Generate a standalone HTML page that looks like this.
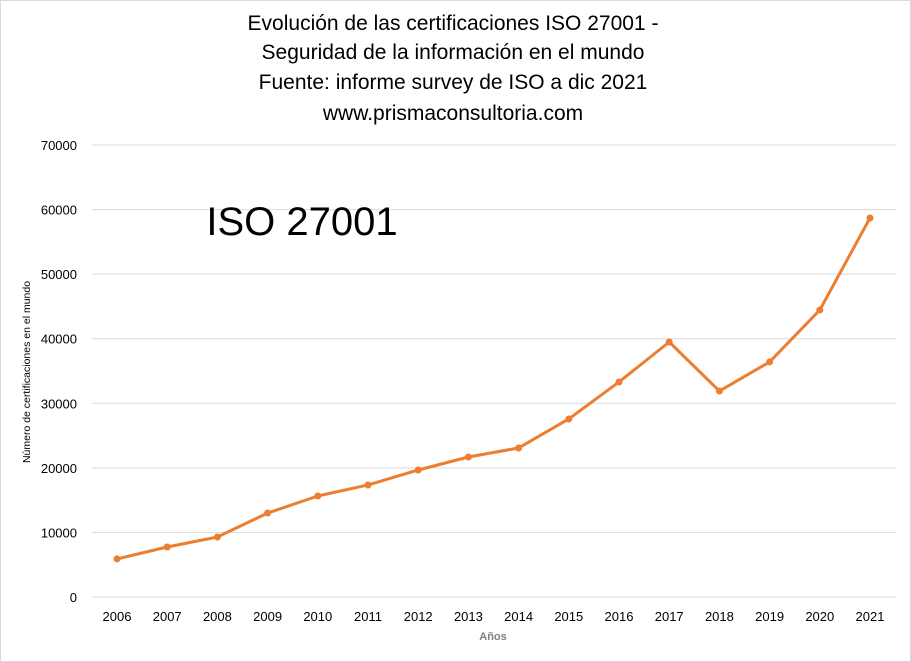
<!DOCTYPE html>
<html><head><meta charset="utf-8"><style>
body{margin:0;background:#fff}
svg{display:block;font-family:"Liberation Sans",sans-serif}
</style></head><body>
<svg id="chart" width="911" height="662">
<rect x="0.5" y="0.5" width="910" height="661" fill="#fff" stroke="#d9d9d9"/>
<g font-size="21" text-anchor="middle" fill="#000">
<text x="453" y="30">Evolución de las certificaciones ISO 27001 -</text>
<text x="453" y="59">Seguridad de la información en el mundo</text>
<text x="453" y="89">Fuente: informe survey de ISO  a dic 2021</text>
<text x="453" y="120">www.prismaconsultoria.com</text>
</g>
<g id="grid"></g>
<text x="302" y="235" font-size="40" text-anchor="middle">ISO 27001</text>
<g id="yticks"></g>
<g id="xticks"></g>
<text x="0" y="0" transform="translate(30,372) rotate(-90)" font-size="10.5" text-anchor="middle">Número de certificaciones en el mundo</text>
<text x="493" y="640" font-size="11" font-weight="bold" fill="#7f7f7f" text-anchor="middle">Años</text>
<g id="series"></g>
</svg>
<script>
const categories=["2006","2007","2008","2009","2010","2011","2012","2013","2014","2015","2016","2017","2018","2019","2020","2021"];
const values=[5900,7740,9290,13000,15640,17350,19670,21680,23080,27570,33300,39490,31900,36400,44450,58700];
const yTicks=[0,10000,20000,30000,40000,50000,60000,70000];
const NS="http://www.w3.org/2000/svg";
const x0=117,x1=870,yBase=597,yTop=145,yMax=70000;
function xs(i){return x0+(x1-x0)*i/(categories.length-1);}
function ys(v){return yBase-(yBase-yTop)*v/yMax;}
function mk(t,a,p){const e=document.createElementNS(NS,t);for(const k in a)e.setAttribute(k,a[k]);p.appendChild(e);return e;}
const grid=document.getElementById('grid'),yt=document.getElementById('yticks'),xt=document.getElementById('xticks'),ser=document.getElementById('series');
yTicks.forEach(v=>{
 const l=mk('line',{x1:92,x2:896,y1:ys(v),y2:ys(v),stroke:'#d9d9d9','stroke-width':1},grid);
 
 
 const t=mk('text',{x:77,y:ys(v)+5,'font-size':13,'text-anchor':'end'},yt);
 t.textContent=v;
 
 
});
categories.forEach((c,i)=>{
 const t=mk('text',{x:xs(i),y:621,'font-size':13,'text-anchor':'middle'},xt);
 t.textContent=c;
 
 
});
const pl=mk('polyline',{points:values.map((v,i)=>xs(i)+','+ys(v)).join(' '),fill:'none',stroke:'#ed7d31','stroke-width':3,'stroke-linejoin':'round'},ser);


values.forEach((v,i)=>{
 const c=mk('circle',{cx:xs(i),cy:ys(v),r:3.5,fill:'#ed7d31'},ser);
 
 
});
</script>
</body></html>
